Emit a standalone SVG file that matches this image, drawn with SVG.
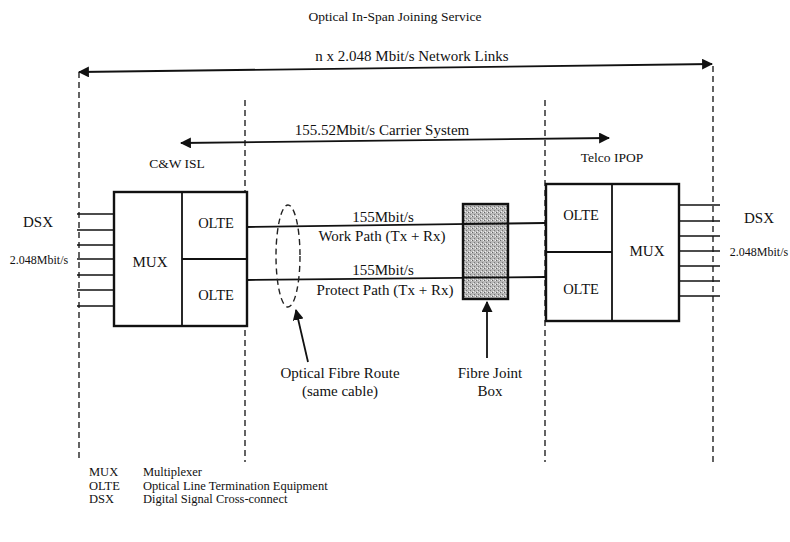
<svg xmlns="http://www.w3.org/2000/svg" width="790" height="542" viewBox="0 0 790 542">
<style>
  text { font-family: "Liberation Serif", "Times New Roman", serif; fill: #111; }
  .t15 { font-size: 15px; }
  .t14 { font-size: 14.5px; }
  .t13 { font-size: 13.5px; }
  .leg { font-size: 12.5px; }
  .small { font-size: 12px; }
  .box { fill: #fff; stroke: #111; stroke-width: 2.4; }
  .div { stroke: #111; stroke-width: 1.8; fill: none; }
  .dash { stroke: #222; stroke-width: 1.4; stroke-dasharray: 6 4; fill: none; }
  .line { stroke: #111; stroke-width: 1.8; fill: none; }
  .stub { stroke: #111; stroke-width: 1.5; }
</style>
<defs>
  <marker id="ah" viewBox="0 0 10 10" refX="9" refY="5" markerWidth="11" markerHeight="11" markerUnits="userSpaceOnUse" orient="auto-start-reverse">
    <path d="M0,0 L10,5 L0,10 Z" fill="#111"/>
  </marker>
  <pattern id="stipple" width="4" height="4" patternUnits="userSpaceOnUse">
    <rect width="4" height="4" fill="#b8b8b8"/>
    <rect x="0" y="0" width="1" height="1" fill="#666"/>
    <rect x="2" y="2" width="1" height="1" fill="#777"/>
    <rect x="3" y="0" width="1" height="1" fill="#eee"/>
    <rect x="1" y="3" width="1" height="1" fill="#eee"/>
  </pattern>
</defs>
<rect width="790" height="542" fill="#fff"/>

<text class="t13" x="395" y="21" text-anchor="middle">Optical In-Span Joining Service</text>

<g id="connectors">
  <line class="dash" x1="79" y1="72" x2="79" y2="462"/>
  <line class="dash" x1="245" y1="100" x2="245" y2="462"/>
  <line class="dash" x1="545" y1="100" x2="545" y2="462"/>
  <line class="dash" x1="713" y1="66" x2="713" y2="462"/>
  <line class="line" x1="79" y1="72" x2="712" y2="64" marker-start="url(#ah)" marker-end="url(#ah)"/>
  <line class="line" x1="181" y1="143" x2="609" y2="138" marker-start="url(#ah)" marker-end="url(#ah)"/>
  <line class="line" x1="247" y1="227" x2="545" y2="223"/>
  <line class="line" x1="247" y1="280" x2="545" y2="277"/>
  <line class="line" x1="308" y1="362" x2="296" y2="310" marker-end="url(#ah)"/>
  <line class="line" x1="487" y1="358" x2="487" y2="302" marker-end="url(#ah)"/>
  <line class="stub" x1="77" y1="214" x2="114" y2="214"/>
  <line class="stub" x1="77" y1="230" x2="114" y2="230"/>
  <line class="stub" x1="77" y1="245" x2="114" y2="245"/>
  <line class="stub" x1="77" y1="259" x2="114" y2="259"/>
  <line class="stub" x1="77" y1="275" x2="114" y2="275"/>
  <line class="stub" x1="77" y1="290" x2="114" y2="290"/>
  <line class="stub" x1="77" y1="306" x2="114" y2="306"/>
  <line class="stub" x1="680" y1="205" x2="720" y2="205"/>
  <line class="stub" x1="680" y1="221" x2="720" y2="221"/>
  <line class="stub" x1="680" y1="236" x2="720" y2="236"/>
  <line class="stub" x1="680" y1="251" x2="720" y2="251"/>
  <line class="stub" x1="680" y1="266" x2="720" y2="266"/>
  <line class="stub" x1="680" y1="281" x2="720" y2="281"/>
  <line class="stub" x1="680" y1="296" x2="720" y2="296"/>
</g>

<text class="t15" x="412" y="61" text-anchor="middle">n x 2.048 Mbit/s Network Links</text>
<text class="t15" x="382" y="135" text-anchor="middle">155.52Mbit/s Carrier System</text>
<text class="t13" x="177" y="168" text-anchor="middle">C&amp;W ISL</text>
<text class="t13" x="612" y="162" text-anchor="middle">Telco IPOP</text>

<g id="left-dsx">
  <text class="t15" x="38" y="227" text-anchor="middle">DSX</text>
  <text class="small" x="39" y="264" text-anchor="middle">2.048Mbit/s</text>
</g>

<g id="left-node">
  <rect class="box" x="114" y="192" width="133" height="134"/>
  <line class="div" x1="182" y1="192" x2="182" y2="326"/>
  <line class="div" x1="182" y1="259" x2="247" y2="259"/>
  <text class="t15" x="150" y="267" text-anchor="middle">MUX</text>
  <text class="t14" x="216" y="228" text-anchor="middle">OLTE</text>
  <text class="t14" x="216" y="300" text-anchor="middle">OLTE</text>
</g>

<g id="right-node">
  <rect class="box" x="546" y="184" width="133" height="137"/>
  <line class="div" x1="612" y1="184" x2="612" y2="321"/>
  <line class="div" x1="546" y1="252" x2="612" y2="252"/>
  <text class="t14" x="581" y="220" text-anchor="middle">OLTE</text>
  <text class="t14" x="581" y="294" text-anchor="middle">OLTE</text>
  <text class="t15" x="647" y="256" text-anchor="middle">MUX</text>
</g>

<g id="right-dsx">
  <text class="t15" x="759" y="223" text-anchor="middle">DSX</text>
  <text class="small" x="759" y="256" text-anchor="middle">2.048Mbit/s</text>
</g>

<g id="fibre-route">
  <ellipse cx="288" cy="256" rx="12" ry="51" class="dash" stroke-dasharray="5 3"/>
</g>

<g id="joint-box">
  <rect x="463" y="204" width="45" height="95" fill="url(#stipple)" stroke="#111" stroke-width="2.4"/>
</g>

<g id="paths-labels">
  <line class="line" x1="463" y1="224" x2="508" y2="223.5"/>
  <line class="line" x1="463" y1="277.5" x2="508" y2="277.3"/>
  <text class="t15" x="383" y="222" text-anchor="middle">155Mbit/s</text>
  <text class="t15" x="382" y="241" text-anchor="middle">Work Path (Tx + Rx)</text>
  <text class="t15" x="383" y="275" text-anchor="middle">155Mbit/s</text>
  <text class="t15" x="385" y="295" text-anchor="middle">Protect Path (Tx + Rx)</text>
</g>

<text class="t15" x="340" y="378" text-anchor="middle">Optical Fibre Route</text>
<text class="t15" x="340" y="396" text-anchor="middle">(same cable)</text>
<text class="t15" x="490" y="378" text-anchor="middle">Fibre Joint</text>
<text class="t15" x="490" y="396" text-anchor="middle">Box</text>

<g id="legend">
  <text class="leg" x="89" y="476">MUX</text>
  <text class="leg" x="143" y="476">Multiplexer</text>
  <text class="leg" x="89" y="489.5">OLTE</text>
  <text class="leg" x="143" y="489.5">Optical  Line Termination Equipment</text>
  <text class="leg" x="89" y="503">DSX</text>
  <text class="leg" x="143" y="503">Digital Signal Cross-connect</text>
</g>
</svg>
